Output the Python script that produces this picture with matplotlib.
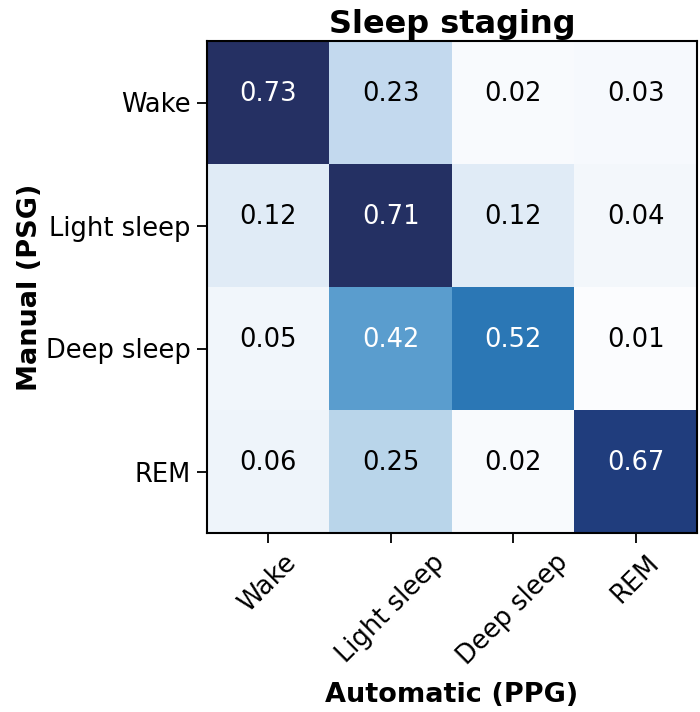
import numpy as np
import matplotlib
matplotlib.use("Agg")
import matplotlib.pyplot as plt
from matplotlib.colors import LinearSegmentedColormap

stages = ["Wake", "Light sleep", "Deep sleep", "REM"]
cm = np.array([
    [0.73, 0.23, 0.02, 0.03],
    [0.12, 0.71, 0.12, 0.04],
    [0.05, 0.42, 0.52, 0.01],
    [0.06, 0.25, 0.02, 0.67],
])

# colour ramp
vmax = 0.73
nodes = [0.0, 0.02, 0.05, 0.12, 0.23, 0.25, 0.42, 0.52, 0.67, 0.71, 0.73]
node_colors = ["#fdfeff", "#f9fbfe", "#f1f6fb", "#e1ecf7", "#c3d9ee", "#b9d5ea",
               "#5b9ecf", "#2c78b6", "#203d7d", "#253063", "#253063"]
cmap = LinearSegmentedColormap.from_list(
    "sleep", [(n / vmax, c) for n, c in zip(nodes, node_colors)])

fig = plt.figure(figsize=(7.0, 7.12), dpi=100)
ax = fig.add_axes([207 / 700, 1 - 533 / 712, 490 / 700, 492 / 712])
ax.imshow(cm, cmap=cmap, vmin=0, vmax=vmax, aspect="auto")

for i in range(cm.shape[0]):
    for j in range(cm.shape[1]):
        colore = "white" if cm[i, j] > 0.35 else "black"
        ax.text(j, i - 0.07, f"{cm[i, j]:.2f}", ha="center", va="center",
                color=colore, fontsize=18.5)

ax.set_xticks(range(len(stages)))
ax.set_yticks(range(len(stages)))
ax.set_xticklabels(stages, rotation=45, fontsize=18.5)
ax.set_yticklabels(stages, fontsize=18.5)
ax.tick_params(length=7, width=1.3, pad=5)
for s in ax.spines.values():
    s.set_linewidth(1.5)

ax.set_title("Sleep staging", fontsize=23, fontweight="bold", pad=6)
ax.set_xlabel("Automatic (PPG)", fontsize=19.5, fontweight="bold", labelpad=8)
ax.set_ylabel("Manual (PSG)", fontsize=19.5, fontweight="bold", labelpad=2)

fig.savefig("out.png", dpi=100)
